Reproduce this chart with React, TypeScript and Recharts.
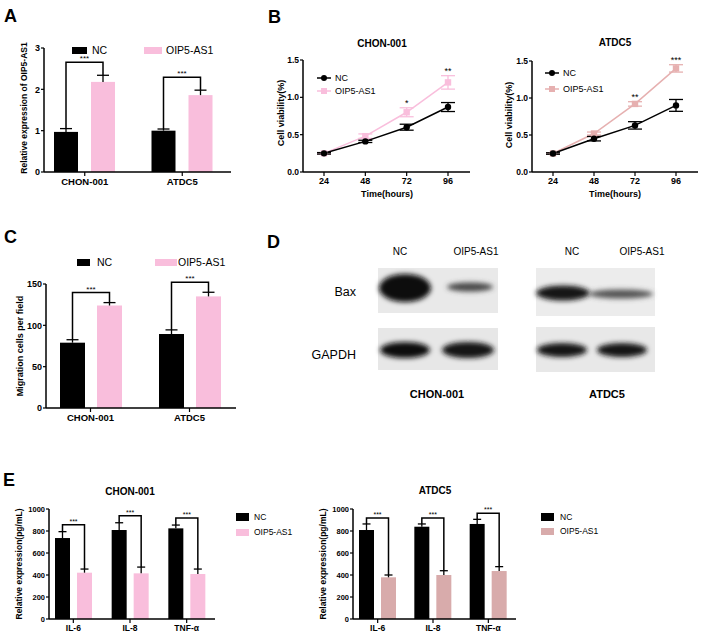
import React from "react";
import { BarChart, Bar, LineChart, Line, XAxis, YAxis, ErrorBar, LabelList } from "recharts";

const FONT = "'Liberation Sans', Arial, Helvetica, sans-serif";
const PINK = "#f9bedc";
const ROSE = "#d8abab";
const ROSE_LINE = "#e6b0b0";

// A - lncRNA expression
const cellLines = ["CHON-001", "ATDC5"];
const lncNC = [0.97, 1.0];
const lncNCErr = [0.08, 0.04];
const lncOIP = [2.18, 1.86];
const lncOIPErr = [0.16, 0.12];

// B - cell viability
const hours = ["24", "48", "72", "96"];
const chonNC = [0.25, 0.41, 0.6, 0.87];
const chonNCErr = [0.01, 0.015, 0.04, 0.06];
const chonOIP = [0.25, 0.48, 0.8, 1.2];
const chonOIPErr = [0.01, 0.03, 0.06, 0.09];
const chonSig = ["", "", "*", "**"];
const atdcNC = [0.25, 0.45, 0.63, 0.9];
const atdcNCErr = [0.01, 0.03, 0.05, 0.08];
const atdcOIP = [0.25, 0.52, 0.92, 1.4];
const atdcOIPErr = [0.01, 0.02, 0.03, 0.05];
const atdcSig = ["", "", "**", "***"];

// C - migration
const migNC = [79, 89.5];
const migNCErr = [3.6, 5];
const migOIP = [124, 135];
const migOIPErr = [3.5, 5];

// E - cytokines
const cytokines = ["IL-6", "IL-8", "TNF-α"];
const chonCytNC = [736, 809, 824];
const chonCytNCErr = [58, 66, 30];
const chonCytOIP = [421, 415, 409];
const chonCytOIPErr = [33, 57, 45];
const atdcCytNC = [809, 839, 864];
const atdcCytNCErr = [55, 25, 42];
const atdcCytOIP = [379, 400, 436];
const atdcCytOIPErr = [21, 39, 40];

const groupRows = (names: string[], nc: number[], ncErr: number[], oip: number[], oipErr: number[]) =>
  names.map((name, i) => ({ name, nc: nc[i], ncErr: ncErr[i], oip: oip[i], oipErr: oipErr[i] }));

const timeRows = (nc: number[], ncErr: number[], oip: number[], oipErr: number[], sig: string[]) =>
  hours.map((t, i) => ({
    t,
    nc: nc[i],
    ncErr: ncErr[i],
    oip: oip[i],
    oipErr: oipErr[i],
    sig: sig[i],
    starAt: sig[i] ? oip[i] + oipErr[i] : null,
  }));

const Txt = ({ x, y, size, bold, anchor = "middle", rotate, children }: any) => (
  <div
    style={{
      position: "absolute",
      left: x,
      top: y,
      transform: `translate(${anchor === "middle" ? "-50%" : anchor === "end" ? "-100%" : "0"}, -50%)${rotate ? " rotate(-90deg)" : ""}`,
      fontSize: size,
      fontWeight: bold ? 700 : 400,
      fontFamily: FONT,
      whiteSpace: "nowrap",
      lineHeight: 1,
      color: "#000",
    }}
  >
    {children}
  </div>
);

const Swatch = ({ x, y, w, h, color }: any) => (
  <div style={{ position: "absolute", left: x, top: y - h / 2, width: w, height: h, background: color }} />
);

// bar with upward error whisker; second series also draws the significance bracket
function barShape(valKey: string, errKey: string, cap: number, bracket?: { gap: number; lift: number; star: number }) {
  return (p: any) => {
    const { x, y, width, height, fill, payload } = p;
    const ppu = height / payload[valKey];
    const cx = x + width / 2;
    const top = y - payload[errKey] * ppu;
    let extra = null;
    if (bracket) {
      const base = y + height;
      const ncCx = x - bracket.gap - width / 2;
      const ncTop = base - (payload.nc + payload.ncErr) * ppu;
      const by = Math.min(ncTop, top) - bracket.lift;
      extra = (
        <g>
          <path d={`M${ncCx},${ncTop} V${by} H${cx} V${top}`} fill="none" stroke="#000" strokeWidth={1.5} />
          <text x={(ncCx + cx) / 2} y={by - 1} textAnchor="middle" fontSize={bracket.star} fontFamily={FONT} fill="#000">
            ***
          </text>
        </g>
      );
    }
    return (
      <g>
        <rect x={x} y={y} width={width} height={height} fill={fill} />
        <line x1={cx} x2={cx} y1={y} y2={top} stroke="#000" strokeWidth={1.3} />
        <line x1={cx - cap / 2} x2={cx + cap / 2} y1={top} y2={top} stroke="#000" strokeWidth={1.3} />
        {extra}
      </g>
    );
  };
}

const axisLine = { stroke: "#000", strokeWidth: 1.5 };
const tickLine = { stroke: "#000", strokeWidth: 1.2 };

function GroupBars(props: any) {
  const { data, box, plot, yW, xH, domain, ticks, fill, barSize, barGap, lift, pad, xFont, yFont, star, cap } = props;
  const margin = {
    top: plot.y0 - box.top,
    bottom: box.top + box.height - plot.y1 - xH,
    left: plot.x0 - box.left - yW,
    right: box.left + box.width - plot.x1,
  };
  return (
    <div style={{ position: "absolute", left: box.left, top: box.top }}>
      <BarChart width={box.width} height={box.height} data={data} margin={margin} barGap={barGap}>
        <XAxis
          dataKey="name"
          height={xH}
          padding={pad}
          interval={0}
          axisLine={axisLine}
          tickLine={tickLine}
          tickSize={4}
          tick={{ fill: "#000", fontSize: xFont, fontWeight: 700, fontFamily: FONT }}
        />
        <YAxis
          width={yW}
          domain={domain}
          ticks={ticks}
          interval={0}
          axisLine={axisLine}
          tickLine={tickLine}
          tickSize={3}
          tickMargin={1}
          tick={{ fill: "#000", fontSize: yFont, fontWeight: 700, fontFamily: FONT }}
        />
        <Bar dataKey="nc" fill="#000" barSize={barSize} isAnimationActive={false} shape={barShape("nc", "ncErr", cap)} />
        <Bar
          dataKey="oip"
          fill={fill}
          barSize={barSize}
          isAnimationActive={false}
          shape={barShape("oip", "oipErr", cap, { gap: barGap, lift, star })}
        />
      </BarChart>
    </div>
  );
}

const NCDot = (p: any) => <circle cx={p.cx} cy={p.cy} r={3.2} fill="#000" />;
const squareDot = (color: string) => (p: any) => <rect x={p.cx - 3.2} y={p.cy - 3.2} width={6.4} height={6.4} fill={color} />;

const starLabel = (p: any) =>
  p.value && p.y != null ? (
    <text x={p.x} y={p.y - 2} textAnchor="middle" fontSize={9} fontFamily={FONT} fill="#000">
      {p.value}
    </text>
  ) : null;

function Viability({ data, box, plot, color }: any) {
  const yW = 25;
  const xH = 20;
  const margin = {
    top: plot.y0 - box.top,
    bottom: box.top + box.height - plot.y1 - xH,
    left: plot.x0 - box.left - yW,
    right: box.left + box.width - plot.x1,
  };
  return (
    <div style={{ position: "absolute", left: box.left, top: box.top }}>
      <LineChart width={box.width} height={box.height} data={data} margin={margin}>
        <XAxis
          dataKey="t"
          height={xH}
          padding={{ left: 21, right: 22 }}
          axisLine={axisLine}
          tickLine={tickLine}
          tickSize={4}
          tick={{ fill: "#000", fontSize: 9, fontWeight: 700, fontFamily: FONT }}
        />
        <YAxis
          width={yW}
          domain={[0, 1.5]}
          ticks={[0, 0.5, 1, 1.5]}
          tickFormatter={(v: number) => v.toFixed(1)}
          axisLine={axisLine}
          tickLine={tickLine}
          tickSize={3}
          tickMargin={1}
          tick={{ fill: "#000", fontSize: 8.5, fontWeight: 700, fontFamily: FONT }}
        />
        <Line dataKey="oip" stroke={color} strokeWidth={1.5} dot={squareDot(color)} activeDot={false} isAnimationActive={false}>
          <ErrorBar dataKey="oipErr" width={7} stroke={color} strokeWidth={1.3} direction="y" />
        </Line>
        <Line dataKey="nc" stroke="#000" strokeWidth={1.5} dot={<NCDot />} activeDot={false} isAnimationActive={false}>
          <ErrorBar dataKey="ncErr" width={7} stroke="#000" strokeWidth={1.3} direction="y" />
        </Line>
        <Line dataKey="starAt" stroke="none" dot={false} activeDot={false} isAnimationActive={false}>
          <LabelList dataKey="sig" content={starLabel} />
        </Line>
      </LineChart>
    </div>
  );
}

const LineKey = ({ x, y, color, square, label }: any) => (
  <>
    <svg style={{ position: "absolute", left: x, top: y - 5 }} width={14} height={10}>
      <line x1={0} x2={14} y1={5} y2={5} stroke={color} strokeWidth={1.5} />
      {square ? <rect x={4} y={2} width={6} height={6} fill={color} /> : <circle cx={7} cy={5} r={3} fill={color} />}
    </svg>
    <Txt x={x + 18} y={y} size={9} anchor="start">
      {label}
    </Txt>
  </>
);

function Blot() {
  const band = (cx: number, cy: number, rx: number, ry: number, c: string) => (
    <ellipse cx={cx} cy={cy} rx={rx} ry={ry} fill={c} filter="url(#blur)" />
  );
  return (
    <svg style={{ position: "absolute", left: 0, top: 0 }} width={701} height={634}>
      <defs>
        <filter id="blur" x="-30%" y="-80%" width="160%" height="260%">
          <feGaussianBlur stdDeviation={2.6} />
        </filter>
      </defs>
      <rect x={378} y={268} width={120} height={45} fill="#e9e9e9" />
      <rect x={378} y={328} width={120} height={42} fill="#e7e7e7" />
      <rect x={536} y={268} width={119} height={48} fill="#ececec" />
      <rect x={536} y={327} width={119} height={45} fill="#e8e8e8" />
      {band(405, 288, 26, 14, "#0d0d0d")}
      {band(470, 287, 23, 4.5, "#4a4a4a")}
      {band(405, 350, 25, 8, "#111")}
      {band(468, 350, 26, 8, "#141414")}
      {band(563, 293, 27, 7.5, "#151515")}
      {band(621, 294, 32, 4.5, "#555")}
      {band(562, 350, 25, 7, "#161616")}
      {band(622, 350, 25, 7, "#161616")}
    </svg>
  );
}

export default function App() {
  const lncData = groupRows(cellLines, lncNC, lncNCErr, lncOIP, lncOIPErr);
  const migData = groupRows(cellLines, migNC, migNCErr, migOIP, migOIPErr);
  const chonCyt = groupRows(cytokines, chonCytNC, chonCytNCErr, chonCytOIP, chonCytOIPErr);
  const atdcCyt = groupRows(cytokines, atdcCytNC, atdcCytNCErr, atdcCytOIP, atdcCytOIPErr);
  const chonTime = timeRows(chonNC, chonNCErr, chonOIP, chonOIPErr, chonSig);
  const atdcTime = timeRows(atdcNC, atdcNCErr, atdcOIP, atdcOIPErr, atdcSig);

  return (
    <div style={{ position: "absolute", left: 0, top: 0, width: 701, height: 634, background: "#fff", fontFamily: FONT }}>
      {/* A */}
      <Txt x={4} y={16} size={18} bold anchor="start">A</Txt>
      <GroupBars
        data={lncData}
        box={{ left: 0, top: 0, width: 240, height: 200 }}
        plot={{ x0: 44, x1: 231, y0: 48, y1: 172 }}
        yW={30}
        xH={20}
        domain={[0, 3]}
        ticks={[0, 1, 2, 3]}
        fill={PINK}
        barSize={24}
        barGap={13}
        lift={13}
        pad={{ left: -8, right: 0 }}
        xFont={9.5}
        yFont={9}
        star={8}
        cap={12}
      />
      <Txt x={24} y={108} size={8.5} bold rotate>Relative expression of OIP5-AS1</Txt>
      <Swatch x={72} y={50} w={15} h={7} color="#000" />
      <Txt x={92} y={50} size={10.5} anchor="start">NC</Txt>
      <Swatch x={144} y={50} w={18} h={7} color={PINK} />
      <Txt x={166} y={50} size={10.5} anchor="start">OIP5-AS1</Txt>

      {/* B */}
      <Txt x={268} y={17} size={18} bold anchor="start">B</Txt>
      <Txt x={382} y={44} size={10} bold>CHON-001</Txt>
      <Viability data={chonTime} box={{ left: 240, top: 0, width: 235, height: 210 }} plot={{ x0: 303, x1: 470, y0: 60, y1: 172 }} color={PINK} />
      <Txt x={281} y={113} size={9} bold rotate>Cell viability(%)</Txt>
      <Txt x={387} y={194} size={9} bold>Time(hours)</Txt>
      <LineKey x={317} y={78} color="#000" label="NC" />
      <LineKey x={317} y={91} color={PINK} square label="OIP5-AS1" />

      <Txt x={615} y={43} size={10} bold>ATDC5</Txt>
      <Viability data={atdcTime} box={{ left: 470, top: 0, width: 231, height: 210 }} plot={{ x0: 532, x1: 698, y0: 61, y1: 172 }} color={ROSE_LINE} />
      <Txt x={509} y={115} size={9} bold rotate>Cell viability(%)</Txt>
      <Txt x={615} y={194} size={9} bold>Time(hours)</Txt>
      <LineKey x={545} y={73} color="#000" label="NC" />
      <LineKey x={545} y={89} color={ROSE_LINE} square label="OIP5-AS1" />

      {/* C */}
      <Txt x={4} y={237} size={18} bold anchor="start">C</Txt>
      <GroupBars
        data={migData}
        box={{ left: 0, top: 215, width: 240, height: 215 }}
        plot={{ x0: 46, x1: 236, y0: 284, y1: 408 }}
        yW={28}
        xH={20}
        domain={[0, 150]}
        ticks={[0, 50, 100, 150]}
        fill={PINK}
        barSize={25}
        barGap={12}
        lift={10}
        pad={{ left: -5, right: -3 }}
        xFont={9.5}
        yFont={9}
        star={8}
        cap={12}
      />
      <Txt x={20} y={346} size={9} bold rotate>Migration cells per field</Txt>
      <Swatch x={77} y={262} w={13} h={7} color="#000" />
      <Txt x={97} y={262} size={10.5} anchor="start">NC</Txt>
      <Swatch x={155} y={262} w={22} h={7} color={PINK} />
      <Txt x={178} y={262} size={10.5} anchor="start">OIP5-AS1</Txt>

      {/* D */}
      <Txt x={267} y={242} size={18} bold anchor="start">D</Txt>
      <Blot />
      <Txt x={400} y={252} size={10}>NC</Txt>
      <Txt x={476} y={252} size={10}>OIP5-AS1</Txt>
      <Txt x={572} y={252} size={10}>NC</Txt>
      <Txt x={642} y={252} size={10}>OIP5-AS1</Txt>
      <Txt x={356} y={292} size={12.5} anchor="end">Bax</Txt>
      <Txt x={356} y={355} size={12.5} anchor="end">GAPDH</Txt>
      <Txt x={437} y={394} size={11} bold>CHON-001</Txt>
      <Txt x={607} y={394} size={11} bold>ATDC5</Txt>

      {/* E */}
      <Txt x={3} y={480} size={18} bold anchor="start">E</Txt>
      <Txt x={130} y={492} size={10} bold>CHON-001</Txt>
      <GroupBars
        data={chonCyt}
        box={{ left: 0, top: 480, width: 230, height: 154 }}
        plot={{ x0: 49, x1: 215, y0: 509, y1: 619 }}
        yW={26}
        xH={15}
        domain={[0, 1000]}
        ticks={[0, 200, 400, 600, 800, 1000]}
        fill={PINK}
        barSize={15}
        barGap={7}
        lift={7}
        pad={{ left: -4, right: 0 }}
        xFont={8.5}
        yFont={7.5}
        star={7}
        cap={8}
      />
      <Txt x={19} y={564} size={8.5} bold rotate>Relative expression(pg/mL)</Txt>
      <Swatch x={236} y={517} w={13} h={8} color="#000" />
      <Txt x={254} y={517} size={8.5} anchor="start">NC</Txt>
      <Swatch x={236} y={532} w={13} h={7} color={PINK} />
      <Txt x={254} y={532} size={8.5} anchor="start">OIP5-AS1</Txt>

      <Txt x={435} y={491} size={10} bold>ATDC5</Txt>
      <GroupBars
        data={atdcCyt}
        box={{ left: 310, top: 480, width: 220, height: 154 }}
        plot={{ x0: 353, x1: 516, y0: 509, y1: 619 }}
        yW={26}
        xH={15}
        domain={[0, 1000]}
        ticks={[0, 200, 400, 600, 800, 1000]}
        fill={ROSE}
        barSize={15}
        barGap={7}
        lift={6}
        pad={{ left: -3, right: 0 }}
        xFont={8.5}
        yFont={7.5}
        star={7}
        cap={8}
      />
      <Txt x={323} y={564} size={8.5} bold rotate>Relative expression(pg/mL)</Txt>
      <Swatch x={541} y={517} w={13} h={8} color="#000" />
      <Txt x={560} y={517} size={8.5} anchor="start">NC</Txt>
      <Swatch x={541} y={531} w={13} h={7} color={ROSE} />
      <Txt x={560} y={531} size={8.5} anchor="start">OIP5-AS1</Txt>
    </div>
  );
}
